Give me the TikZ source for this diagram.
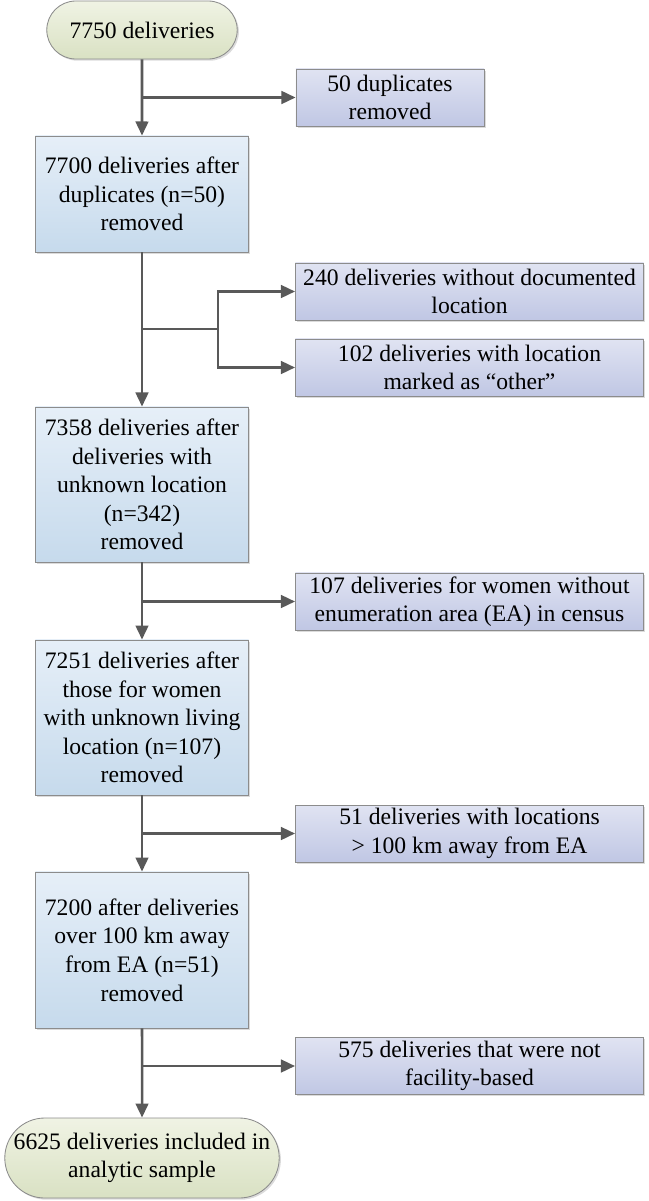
\documentclass[tikz,border=0pt]{standalone}
\usepackage{fontspec}
\setmainfont{Liberation Serif}
\newfontfamily\flowfont{Liberation Serif}
\usetikzlibrary{arrows.meta,shapes.misc,shadows}
\definecolor{lineg}{HTML}{595959}
\definecolor{edgeg}{HTML}{8C8C8C}
\definecolor{mainT}{HTML}{E6EFF8}
\definecolor{mainB}{HTML}{C6DAEC}
\definecolor{sideT}{HTML}{E0E3F2}
\definecolor{sideB}{HTML}{C0C7E4}
\definecolor{termT}{HTML}{F0F3E4}
\definecolor{termB}{HTML}{D9E1C3}
\tikzset{
  boxbase/.style={draw=edgeg, line width=0.6pt, align=center, inner sep=2pt,
    font=\flowfont\fontsize{16.8}{20.3}\selectfont,
    drop shadow={shadow xshift=1.2pt, shadow yshift=-1.2pt, opacity=0.35, fill=black!40}},
  mainbox/.style={boxbase, rectangle, top color=mainT, bottom color=mainB,
    minimum width=5.325cm, minimum height=#1},
  sidebox/.style={boxbase, rectangle, top color=sideT, bottom color=sideB,
    minimum width=8.7cm, minimum height=1.425cm},
  termbox/.style={boxbase, rounded rectangle, top color=termT, bottom color=termB},
  flow/.style={draw=lineg, line width=1.8pt, -{Triangle[length=10pt,width=9pt]}},
  flowline/.style={draw=lineg, line width=1.8pt}
}
\begin{document}
\begin{tikzpicture}[x=0.025cm, y=-0.025cm]
	\useasboundingbox (0,0) rectangle (649,1201);
	\node[termbox, minimum width=4.9cm, minimum height=1.45cm] (start) at (142,30) {7750 deliveries};
	\node[sidebox, minimum width=4.7cm] (dup) at (390,97.5) {50 duplicates\\removed};
	\node[mainbox=2.9cm] (A) at (142,194) {7700 deliveries after\\duplicates (n=50)\\removed};
	\node[sidebox] (loc) at (469.5,291.5) {240 deliveries without documented\\location};
	\node[sidebox] (oth) at (469.5,367.5) {102 deliveries with location\\marked as “other”};
	\node[mainbox=3.875cm] (B) at (142,484.5) {7358 deliveries after\\deliveries with\\unknown location\\(n=342)\\removed};
	\node[sidebox] (ea) at (469.5,601.5) {107 deliveries for women without\\enumeration area (EA) in census};
	\node[mainbox=3.875cm] (F) at (142,717.5) {7251 deliveries after\\those for women\\with unknown living\\location (n=107)\\removed};
	\node[sidebox] (far) at (469.5,833.5) {51 deliveries with locations\\> 100 km away from EA};
	\node[mainbox=3.9cm] (H) at (142,950) {7200 after deliveries\\over 100 km away\\from EA (n=51)\\removed};
	\node[sidebox] (fac) at (469.5,1066) {575 deliveries that were not\\facility-based};
	\node[termbox, minimum width=7cm, minimum height=2cm] (end) at (142,1158) {6625 deliveries included in\\analytic sample};
	\coordinate (b1) at (start.south |- dup.west);
	\coordinate (b2) at (142,329);
	\coordinate (b2x) at (218,329);
	\coordinate (b3) at (142,601.5);
	\coordinate (b4) at (142,833.5);
	\coordinate (b5) at (142,1066);
	\draw[flow] (start) -- (A);
	\draw[flow] (b1) -- (dup);
	\draw[flow] (A) -- (B);
	\draw[flowline] (b2) -- (b2x);
	\draw[flow] (b2x) |- (loc);
	\draw[flow] (b2x) |- (oth);
	\draw[flow] (B) -- (F);
	\draw[flow] (b3) -- (ea);
	\draw[flow] (F) -- (H);
	\draw[flow] (b4) -- (far);
	\draw[flow] (H) -- (end);
	\draw[flow] (b5) -- (fac);
\end{tikzpicture}
\end{document}
